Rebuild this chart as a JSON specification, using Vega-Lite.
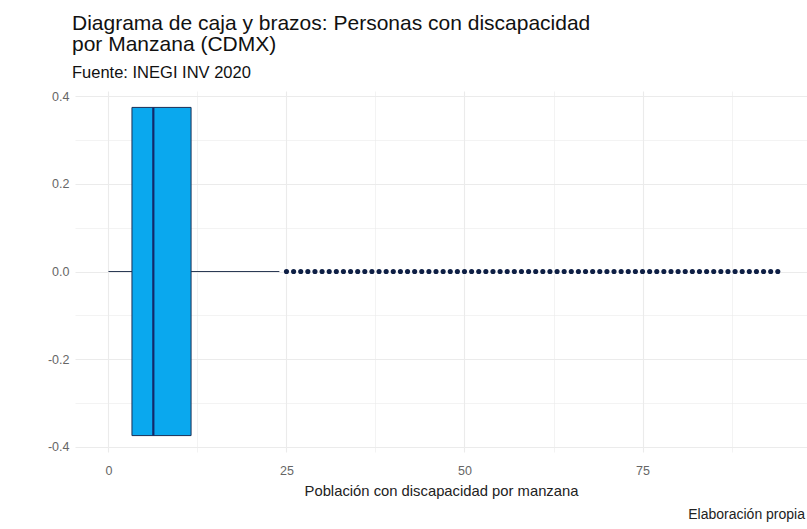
{
  "$schema": "https://vega.github.io/schema/vega-lite/v6.json",
  "autosize": {"type": "none"},
  "padding": {"top": 91, "left": 75, "right": 0, "bottom": 77},
  "width": 732,
  "height": 361,
  "background": "white",
  "title": {
    "text": ["Diagrama de caja y brazos: Personas con discapacidad", "por Manzana (CDMX)"],
    "subtitle": "Fuente: INEGI INV 2020",
    "anchor": "start",
    "frame": "group",
    "dx": -3,
    "font": "Liberation Sans",
    "fontSize": 21,
    "fontWeight": "normal",
    "lineHeight": 21,
    "color": "#111111",
    "subtitleFont": "Liberation Sans",
    "subtitleFontSize": 16.5,
    "subtitleColor": "#111111",
    "subtitlePadding": 10,
    "offset": 9
  },
  "config": {
    "view": {"stroke": null},
    "font": "Liberation Sans",
    "axis": {
      "domain": false,
      "ticks": false,
      "grid": true,
      "labelFont": "Liberation Sans",
      "labelFontSize": 12.5,
      "labelColor": "#666666",
      "titleFont": "Liberation Sans",
      "titleFontWeight": "normal",
      "titleColor": "#222222",
      "gridColor": "#EBEBEB"
    }
  },
  "datasets": {
    "summary": [{"lower": 0, "q1": 3.3, "median": 6.3, "q3": 11.6, "upper": 24}],
    "outliers": [
      {"v": 25}, {"v": 26}, {"v": 27}, {"v": 28}, {"v": 29}, {"v": 30}, {"v": 31}, {"v": 32}, {"v": 33}, {"v": 34},
      {"v": 35}, {"v": 36}, {"v": 37}, {"v": 38}, {"v": 39}, {"v": 40}, {"v": 41}, {"v": 42}, {"v": 43}, {"v": 44},
      {"v": 45}, {"v": 46}, {"v": 47}, {"v": 48}, {"v": 49}, {"v": 50}, {"v": 51}, {"v": 52}, {"v": 53}, {"v": 54},
      {"v": 55}, {"v": 56}, {"v": 57}, {"v": 58}, {"v": 59}, {"v": 60}, {"v": 61}, {"v": 62}, {"v": 63}, {"v": 64},
      {"v": 65}, {"v": 66}, {"v": 67}, {"v": 68}, {"v": 69}, {"v": 70}, {"v": 71}, {"v": 72}, {"v": 73}, {"v": 74},
      {"v": 75}, {"v": 76}, {"v": 77}, {"v": 78}, {"v": 79}, {"v": 80}, {"v": 81}, {"v": 82}, {"v": 83}, {"v": 84},
      {"v": 85}, {"v": 86}, {"v": 87}, {"v": 88}, {"v": 89}, {"v": 90}, {"v": 91}, {"v": 92}, {"v": 93}, {"v": 94}
    ],
    "caption": [{"text": "Elaboración propia"}]
  },
  "layer": [
    {
      "data": {"name": "summary"},
      "mark": {"type": "rule", "color": "#2B3A55", "strokeWidth": 1.1},
      "encoding": {
        "x": {
          "field": "lower",
          "type": "quantitative",
          "scale": {"domain": [-4.7, 98.1], "nice": false, "zero": false},
          "axis": {
            "grid": true,
            "values": [0, 12.5, 25, 37.5, 50, 62.5, 75, 87.5],
            "labelExpr": "datum.value % 25 == 0 ? datum.label : ''",
            "gridWidth": {"condition": {"test": "datum.value % 25 == 0", "value": 1.1}, "value": 0.6},
            "labelPadding": 12,
            "title": "Población con discapacidad por manzana",
            "titleFontSize": 14.8,
            "titlePadding": 7
          }
        },
        "x2": {"field": "upper"},
        "y": {
          "datum": 0,
          "type": "quantitative",
          "scale": {"domain": [-0.4125, 0.4125], "nice": false, "zero": false},
          "axis": {
            "grid": true,
            "values": [-0.4, -0.3, -0.2, -0.1, 0, 0.1, 0.2, 0.3, 0.4],
            "labelExpr": "abs(round(datum.value * 10)) % 2 == 0 ? replace(format(datum.value, '.1f'), '−', '-') : ''",
            "gridWidth": {"condition": {"test": "abs(round(datum.value * 10)) % 2 == 0", "value": 1.1}, "value": 0.6},
            "labelPadding": 6,
            "title": null
          }
        }
      }
    },
    {
      "data": {"name": "summary"},
      "mark": {"type": "bar", "color": "#0AA8EE", "stroke": "#1B2F55", "strokeWidth": 1},
      "encoding": {
        "x": {"field": "q1", "type": "quantitative"},
        "x2": {"field": "q3"},
        "y": {"datum": -0.375, "type": "quantitative"},
        "y2": {"datum": 0.375}
      }
    },
    {
      "data": {"name": "summary"},
      "mark": {"type": "rule", "color": "#13296A", "strokeWidth": 2.2},
      "encoding": {
        "x": {"field": "median", "type": "quantitative"},
        "y": {"datum": -0.375, "type": "quantitative"},
        "y2": {"datum": 0.375}
      }
    },
    {
      "data": {"name": "outliers"},
      "mark": {"type": "circle", "color": "#0E1F45", "opacity": 1, "size": 26},
      "encoding": {
        "x": {"field": "v", "type": "quantitative"},
        "y": {"datum": 0, "type": "quantitative"}
      }
    },
    {
      "data": {"name": "caption"},
      "mark": {"type": "text", "align": "right", "baseline": "middle", "fontSize": 14, "color": "#222222", "dy": 63, "dx": -2, "font": "Liberation Sans"},
      "encoding": {
        "text": {"field": "text"},
        "x": {"datum": 98.1, "type": "quantitative"},
        "y": {"datum": -0.4125, "type": "quantitative"}
      }
    }
  ]
}
